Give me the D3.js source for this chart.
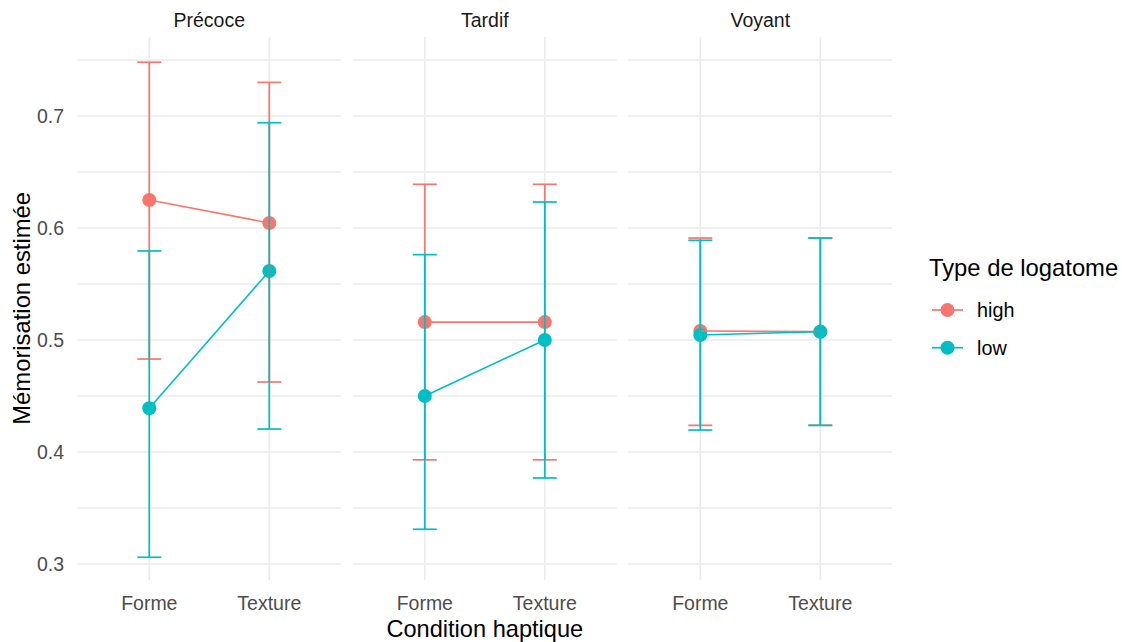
<!DOCTYPE html>
<html><head><meta charset="utf-8">
<script src="https://cdn.jsdelivr.net/npm/d3@7"></script>
<style>body{margin:0;background:#fff}svg{display:block;font-family:"Liberation Sans",Arial,sans-serif}</style>
</head><body><svg id="c" width="1122" height="642"></svg>
<script>
const facets = ["Précoce", "Tardif", "Voyant"];
const conditions = ["Forme", "Texture"];
const groups = ["high", "low"];
const colors = ["#F8766D", "#00BFC4"];
// [facet][condition]
const highMean  = [[0.625, 0.6045], [0.516, 0.516], [0.508, 0.5075]];
const highLower = [[0.483, 0.4625], [0.393, 0.393], [0.4238, 0.4238]];
const highUpper = [[0.748, 0.730],  [0.639, 0.639], [0.591, 0.591]];
const lowMean   = [[0.439, 0.5616], [0.450, 0.500], [0.5045, 0.5074]];
const lowLower  = [[0.306, 0.4205], [0.331, 0.3768], [0.4196, 0.4238]];
const lowUpper  = [[0.5795, 0.694], [0.5762, 0.6232], [0.589, 0.591]];
const yTicks = [0.3, 0.4, 0.5, 0.6, 0.7];
const yMinor = [0.35, 0.45, 0.55, 0.65, 0.75];

const series = [
  {name: groups[0], color: colors[0], mean: highMean, lo: highLower, hi: highUpper},
  {name: groups[1], color: colors[1], mean: lowMean, lo: lowLower, hi: lowUpper}
];

const svg = d3.select("#c");
const pTop = 36.7, pBottom = 580;
const panelW = 264, gap = 11.5, left0 = 77.3;
const y = d3.scaleLinear().domain([0.285714, 0.770804]).range([pBottom, pTop]);

const gridCol = "#EBEBEB";
facets.forEach((f, fi) => {
  const x0 = left0 + fi * (panelW + gap);
  const x = d3.scalePoint().domain(conditions).range([x0, x0 + panelW]).padding(0.6);
  const g = svg.append("g");
  // grids
  g.selectAll(".mn").data(yMinor).join("line")
    .attr("x1", x0).attr("x2", x0 + panelW)
    .attr("y1", d => y(d)).attr("y2", d => y(d))
    .attr("stroke", gridCol).attr("stroke-width", 1.3);
  g.selectAll(".mj").data(yTicks).join("line")
    .attr("x1", x0).attr("x2", x0 + panelW)
    .attr("y1", d => y(d)).attr("y2", d => y(d))
    .attr("stroke", gridCol).attr("stroke-width", 1.6);
  g.selectAll(".vx").data(conditions).join("line")
    .attr("x1", d => x(d)).attr("x2", d => x(d))
    .attr("y1", pTop).attr("y2", pBottom)
    .attr("stroke", gridCol).attr("stroke-width", 1.6);
  // strip
  g.append("text").attr("x", x0 + panelW / 2).attr("y", 27)
    .attr("text-anchor", "middle").attr("font-size", 19.5).attr("fill", "#1A1A1A").text(f);
  // x tick labels
  g.selectAll(".xt").data(conditions).join("text")
    .attr("x", d => x(d)).attr("y", 610).attr("text-anchor", "middle")
    .attr("font-size", 19.5).attr("fill", "#4D4D4D").text(d => d);

  // points
  series.forEach(s => {
    g.selectAll(null).data(conditions).join("circle")
      .attr("cx", d => x(d)).attr("cy", (d, i) => y(s.mean[fi][i]))
      .attr("r", 7).attr("fill", s.color);
  });
  // lines
  series.forEach(s => {
    const line = d3.line().x(d => x(d)).y((d, i) => y(s.mean[fi][i]));
    g.append("path").attr("d", line(conditions)).attr("fill", "none")
      .attr("stroke", s.color).attr("stroke-width", 1.6);
  });
  // error bars
  series.forEach(s => {
    conditions.forEach((c, i) => {
      const cx = x(c), lo = y(s.lo[fi][i]), hi = y(s.hi[fi][i]);
      const eb = g.append("g").attr("stroke", s.color).attr("stroke-width", 1.7).attr("fill", "none");
      eb.append("line").attr("x1", cx).attr("x2", cx).attr("y1", lo).attr("y2", hi);
      eb.append("line").attr("x1", cx - 12).attr("x2", cx + 12).attr("y1", lo).attr("y2", lo);
      eb.append("line").attr("x1", cx - 12).attr("x2", cx + 12).attr("y1", hi).attr("y2", hi);
    });
  });
});

// y tick labels
svg.selectAll(".yt").data(yTicks).join("text")
  .attr("x", 64).attr("y", d => y(d)).attr("dy", "0.35em").attr("text-anchor", "end")
  .attr("font-size", 19.5).attr("fill", "#4D4D4D").text(d => d.toFixed(1));

// axis titles
svg.append("text").attr("x", left0 + (3 * panelW + 2 * gap) / 2).attr("y", 637)
  .attr("text-anchor", "middle").attr("font-size", 23.6).attr("fill", "#000").text("Condition haptique");
svg.append("text").attr("transform", `translate(30,${(pTop + pBottom) / 2}) rotate(-90)`)
  .attr("text-anchor", "middle").attr("font-size", 23.8).attr("fill", "#000").text("Mémorisation estimée");

// legend
const lg = svg.append("g");
lg.append("text").attr("x", 929).attr("y", 276).attr("font-size", 23.8).attr("fill", "#000").text("Type de logatome");
series.forEach((s, i) => {
  const cy = 310 + i * 37.7;
  lg.append("line").attr("x1", 932).attr("x2", 963).attr("y1", cy).attr("y2", cy)
    .attr("stroke", s.color).attr("stroke-width", 1.7);
  lg.append("circle").attr("cx", 947.5).attr("cy", cy).attr("r", 7).attr("fill", s.color);
  lg.append("text").attr("x", 977).attr("y", cy).attr("dy", "0.35em").attr("font-size", 19.8)
    .attr("fill", "#000").text(s.name);
});
</script></body></html>
